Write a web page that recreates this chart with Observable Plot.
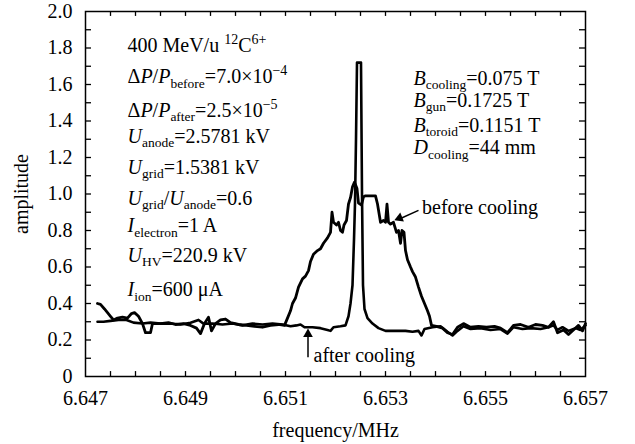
<!DOCTYPE html>
<html>
<head>
<meta charset="utf-8">
<script src="https://cdn.jsdelivr.net/npm/d3@7"></script>
<script src="https://cdn.jsdelivr.net/npm/@observablehq/plot@0.6"></script>
<style>
  html, body { margin: 0; padding: 0; background: white; }
</style>
</head>
<body>
<div id="chart"></div>
<script>
const SERIF = "'Liberation Serif', 'Times New Roman', Times, serif";

// ---- data ----
const beforeFreq = [6.64724,6.6473,6.64738,6.64744,6.6475,6.64756,6.64764,6.64774,6.64784,6.64792,6.64798,6.64806,6.64814,6.6482,6.6483,6.64834,6.6485,6.64866,6.6488,6.64896,6.6491,6.64922,6.6493,6.64938,6.64946,6.64952,6.6496,6.6497,6.6498,6.6499,6.65006,6.65022,6.65038,6.65054,6.6507,6.65086,6.65098,6.65104,6.6511,6.65114,6.6512,6.65126,6.65134,6.6514,6.65146,6.6515,6.65156,6.65164,6.6517,6.65176,6.65184,6.6519,6.65193,6.65196,6.65202,6.65206,6.6521,6.65214,6.65217,6.65222,6.65226,6.6523,6.65234,6.65238,6.65243,6.65246,6.65252,6.65256,6.6526,6.6528,6.65284,6.6529,6.65296,6.653,6.65303,6.65306,6.6531,6.65316,6.65322,6.65326,6.6533,6.65333,6.65337,6.6534,6.65344,6.6535,6.65354,6.6536,6.65366,6.65372,6.65378,6.65384,6.65388,6.65392,6.65402,6.65414,6.65424,6.65434,6.65444,6.65456,6.6547,6.65486,6.65502,6.65518,6.6553,6.65544,6.65556,6.6557,6.65586,6.656,6.65614,6.65626,6.65636,6.65644,6.65656,6.65666,6.65678,6.65686,6.65694,6.657];
const beforeAmp = [0.40,0.395,0.37,0.35,0.33,0.31,0.32,0.325,0.32,0.345,0.35,0.33,0.29,0.24,0.24,0.29,0.29,0.295,0.285,0.29,0.28,0.265,0.235,0.29,0.325,0.25,0.29,0.31,0.315,0.295,0.285,0.28,0.275,0.27,0.28,0.285,0.28,0.32,0.36,0.40,0.43,0.49,0.535,0.55,0.58,0.63,0.67,0.69,0.70,0.73,0.76,0.79,0.90,0.845,0.83,0.845,0.80,0.79,0.83,0.855,0.945,0.98,1.04,1.065,1.03,0.95,0.94,0.985,0.99,0.99,0.945,0.845,0.855,0.845,0.945,0.845,0.835,0.845,0.79,0.80,0.73,0.80,0.79,0.69,0.64,0.60,0.575,0.545,0.49,0.44,0.40,0.36,0.33,0.28,0.275,0.265,0.24,0.23,0.27,0.29,0.27,0.275,0.27,0.275,0.265,0.24,0.28,0.285,0.27,0.285,0.28,0.27,0.30,0.24,0.255,0.23,0.26,0.28,0.25,0.29];

const afterFreq = [6.64724,6.64736,6.6475,6.64766,6.64782,6.64796,6.64814,6.6483,6.6485,6.6487,6.6489,6.6491,6.64926,6.64936,6.64954,6.64974,6.64994,6.65014,6.65034,6.65054,6.65074,6.65094,6.6511,6.65122,6.6513,6.65138,6.65154,6.6517,6.65184,6.6519,6.65196,6.6521,6.6522,6.65226,6.6523,6.65234,6.65237,6.65239,6.65241,6.65243,6.65251,6.65253,6.65255,6.65258,6.65264,6.65274,6.65286,6.653,6.6532,6.6534,6.65354,6.65366,6.65372,6.65378,6.65394,6.6541,6.65424,6.65434,6.65444,6.65456,6.6547,6.6549,6.6551,6.6553,6.65544,6.65556,6.65574,6.6559,6.6561,6.65626,6.65636,6.65644,6.65654,6.65666,6.6568,6.6569,6.657];
const afterAmp = [0.30,0.30,0.305,0.31,0.31,0.295,0.29,0.295,0.29,0.29,0.285,0.295,0.31,0.29,0.29,0.285,0.29,0.28,0.29,0.285,0.29,0.285,0.275,0.28,0.285,0.27,0.27,0.265,0.255,0.25,0.27,0.275,0.28,0.33,0.40,0.50,0.75,0.95,1.30,1.72,1.72,1.00,0.50,0.37,0.32,0.29,0.265,0.25,0.25,0.25,0.245,0.25,0.225,0.26,0.27,0.275,0.245,0.225,0.25,0.275,0.26,0.265,0.255,0.26,0.235,0.27,0.26,0.265,0.26,0.27,0.28,0.255,0.27,0.25,0.265,0.255,0.28];

const xLabelTicks = [6.647, 6.649, 6.651, 6.653, 6.655, 6.657];
const xMinorTicks = d3.range(1, 20).map(i => +(6.647 + i * 0.0005).toFixed(4));
const yLabelTicks = [0, 0.2, 0.4, 0.6, 0.8, 1.0, 1.2, 1.4, 1.6, 1.8, 2.0];
const yMinorTicks = d3.range(1, 20).map(i => +(i * 0.1).toFixed(1));

const xTitle = "frequency/MHz";
const yTitle = "amplitude";

// annotation texts: [kind, text]
const leftNotes = [
  [["n","400 MeV/u "],["sup","12"],["n","C"],["sup","6+"]],
  [["n","Δ"],["i","P"],["n","/"],["i","P"],["sub","before"],["n","=7.0×10"],["sup","−4"]],
  [["n","Δ"],["i","P"],["n","/"],["i","P"],["sub","after"],["n","=2.5×10"],["sup","−5"]],
  [["i","U"],["sub","anode"],["n","=2.5781 kV"]],
  [["i","U"],["sub","grid"],["n","=1.5381 kV"]],
  [["i","U"],["sub","grid"],["n","/"],["i","U"],["sub","anode"],["n","=0.6"]],
  [["i","I"],["sub","electron"],["n","=1 A"]],
  [["i","U"],["sub","HV"],["n","=220.9 kV"]],
  [["i","I"],["sub","ion"],["n","=600 μA"]]
];
const leftNotesFreq = 6.64785;
const leftNotesAmp = [1.777, 1.605, 1.421, 1.278, 1.107, 0.937, 0.789, 0.625, 0.438];

const rightNotes = [
  [["i","B"],["sub","cooling"],["n","=0.075 T"]],
  [["i","B"],["sub","gun"],["n","=0.1725 T"]],
  [["i","B"],["sub","toroid"],["n","=0.1151 T"]],
  [["i","D"],["sub","cooling"],["n","=44 mm"]]
];
const rightNotesFreq = 6.65357;
const rightNotesAmp = [1.597, 1.474, 1.337, 1.214];

const curveLabels = [
  {text: "before cooling", f: 6.65373, a: 0.893},
  {text: "after cooling", f: 6.65156, a: 0.080}
];
const arrowLines = [
  {f1: 6.65366, a1: 0.910, f2: 6.65330, a2: 0.866},
  {f1: 6.65145, a1: 0.106, f2: 6.65145, a2: 0.225}
];
const arrowHeads = [
  {f: 6.65328, a: 0.868, rot: -112},
  {f: 6.65145, a: 0.232, rot: 0}
];

// ---- build ----
const before = beforeFreq.map((f, i) => ({f, a: beforeAmp[i]}));
const after = afterFreq.map((f, i) => ({f, a: afterAmp[i]}));
const X0 = 6.647, X1 = 6.657, Y0 = 0, Y1 = 2;
const xTickLen = 0.027;     // in amplitude units (~5 px)
const yTickLen = 0.00012;   // in frequency units (~6 px)

const plot = Plot.plot({
  width: 635,
  height: 444,
  marginLeft: 85,
  marginRight: 50,
  marginTop: 11,
  marginBottom: 68,
  style: {fontFamily: SERIF, fontSize: "20px", color: "black", background: "white", overflow: "visible"},
  x: {domain: [X0, X1]},
  y: {domain: [Y0, Y1]},
  marks: [
    Plot.axisX(xLabelTicks, {anchor: "bottom", tickSize: 0, tickPadding: 14, tickFormat: d => d.toFixed(3),
      label: xTitle, labelAnchor: "center", labelArrow: "none", labelOffset: 60}),
    Plot.axisY(yLabelTicks, {anchor: "left", tickSize: 0, tickPadding: 13, tickFormat: d => d === 0 ? "0" : d.toFixed(1),
      label: yTitle, labelAnchor: "center", labelArrow: "none", labelOffset: 72}),
    // inward ticks on all four sides
    Plot.ruleX(xMinorTicks, {x: d => d, y1: Y0, y2: Y0 + xTickLen, stroke: "black", strokeWidth: 1.3}),
    Plot.ruleX(xMinorTicks, {x: d => d, y1: Y1, y2: Y1 - xTickLen, stroke: "black", strokeWidth: 1.3}),
    Plot.ruleY(yMinorTicks, {y: d => d, x1: X0, x2: X0 + yTickLen, stroke: "black", strokeWidth: 1.3}),
    Plot.ruleY(yMinorTicks, {y: d => d, x1: X1, x2: X1 - yTickLen, stroke: "black", strokeWidth: 1.3}),
    Plot.frame({stroke: "black", strokeWidth: 1.5}),
    Plot.line(before, {x: "f", y: "a", stroke: "black", strokeWidth: 2.8, strokeLinejoin: "round"}),
    Plot.line(after, {x: "f", y: "a", stroke: "black", strokeWidth: 2.6, strokeLinejoin: "round"}),
    Plot.link(arrowLines, {x1: "f1", y1: "a1", x2: "f2", y2: "a2", stroke: "black", strokeWidth: 1.5}),
    Plot.dot(arrowHeads, {x: "f", y: "a", symbol: "triangle", r: 3.6, fill: "black", stroke: null, rotate: "rot"}),
    Plot.text(curveLabels, {x: "f", y: "a", text: "text", textAnchor: "start", lineAnchor: "bottom", fontSize: 20, fill: "black"})
  ]
});

document.getElementById("chart").appendChild(plot);

// rich (sub/superscript) annotation text, positioned with the plot's scales
const sx = plot.scale("x"), sy = plot.scale("y");
function richLines(lines, fx, amps) {
  lines.forEach((segs, i) => {
    const t = d3.select(plot).append("text")
      .attr("x", sx.apply(fx))
      .attr("y", sy.apply(amps[i]))
      .attr("text-anchor", "start")
      .attr("font-family", SERIF)
      .attr("font-size", 20)
      .attr("fill", "black");
    let cur = 0;
    for (const [kind, s] of segs) {
      const target = kind === "sub" ? 4.5 : kind === "sup" ? -8 : 0;
      const ts = t.append("tspan").text(s).attr("dy", target - cur);
      if (kind === "sub") ts.attr("font-size", 13.5);
      if (kind === "sup") ts.attr("font-size", 14);
      if (kind === "i") ts.attr("font-style", "italic");
      cur = target;
    }
  });
}
richLines(leftNotes, leftNotesFreq, leftNotesAmp);
richLines(rightNotes, rightNotesFreq, rightNotesAmp);
</script>
</body>
</html>
